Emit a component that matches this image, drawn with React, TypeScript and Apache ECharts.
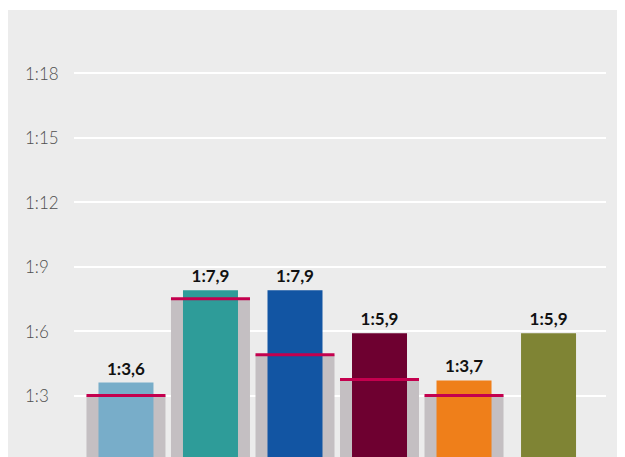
import React, { useEffect, useRef } from "react";
import * as echarts from "echarts";

const categories = ["A", "B", "C", "D", "E", "F"];
const ratioValues = [3.6, 7.9, 7.9, 5.9, 3.7, 5.9];
const benchmarkValues: (number | null)[] = [3.0, 7.5, 4.9, 3.75, 3.0, null];
const barColors = ["#78adc9", "#2e9c99", "#1255a3", "#6e0030", "#ef7f1a", "#7f8434"];
const yMax = 18;
const yInterval = 3;

const fmt = (v: number) => "1:" + String(v).replace(".", ",");

export default function App() {
  const ref = useRef<HTMLDivElement>(null);
  useEffect(() => {
    if (!ref.current) return;
    const chart = echarts.init(ref.current, null, { renderer: "svg" });
    const xMin = -0.615;
    const xMax = categories.length - 1 + 0.68;
    const benchData = benchmarkValues
      .map((v, i) => (v == null ? null : [i, v]))
      .filter((d) => d != null) as number[][];
    chart.setOption({
      animation: false,
      backgroundColor: "#ececec",
      grid: { left: 66, right: 19, top: 63, bottom: 0 },
      xAxis: [
        { type: "value", min: xMin, max: xMax, show: false },
        { type: "value", min: xMin, max: xMax, show: false },
      ],
      yAxis: {
        type: "value",
        min: 0,
        max: yMax,
        interval: yInterval,
        axisLine: { show: false },
        axisTick: { show: false },
        splitLine: { lineStyle: { color: "#ffffff", width: 2 } },
        axisLabel: {
          showMinLabel: false,
          align: "left",
          margin: 49,
          color: "#4f4f4f",
          fontFamily: "Lato",
          fontWeight: 300,
          fontSize: 17,
          formatter: (v: number) => "1:" + v,
        },
      },
      series: [
        {
          type: "bar",
          xAxisIndex: 0,
          barWidth: 79,
          z: 1,
          itemStyle: { color: "#c4bfc2" },
          data: benchData,
        },
        {
          type: "bar",
          xAxisIndex: 1,
          barWidth: 55,
          z: 2,
          data: ratioValues.map((v, i) => ({
            value: [i, v],
            itemStyle: { color: barColors[i] },
          })),
          label: {
            show: true,
            position: "top",
            distance: 6,
            color: "#111111",
            fontFamily: "Lato",
            fontWeight: "bold",
            fontSize: 17,
            formatter: (p: any) => fmt(p.value[1]),
          },
        },
        {
          type: "scatter",
          xAxisIndex: 0,
          z: 3,
          symbol: "rect",
          symbolSize: [79, 3],
          itemStyle: { color: "#c4004e", opacity: 1 },
          data: benchData,
        },
      ],
    });
    return () => chart.dispose();
  }, []);
  return (
    <div
      ref={ref}
      style={{ width: 617, height: 450, position: "relative", top: 2 }}
    />
  );
}
